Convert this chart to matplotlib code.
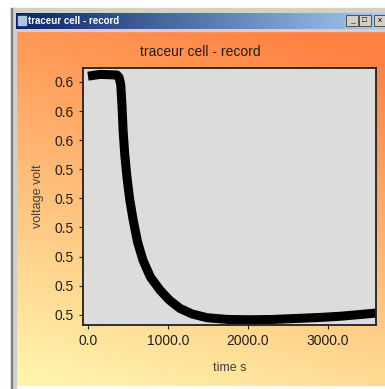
import numpy as np
import matplotlib
matplotlib.use("Agg")
import matplotlib.pyplot as plt
from matplotlib.patches import Rectangle

# record
time_s = [0, 150, 362, 390, 410, 425, 440, 460, 487, 520, 562, 620, 687, 780, 900,
          1020, 1150, 1300, 1487, 1750, 2025, 2300, 2650, 2900, 3150, 3400, 3600]
voltage = [0.5820, 0.5826, 0.5824, 0.5815, 0.5790, 0.5720, 0.5630, 0.5550, 0.5474,
           0.5400, 0.5330, 0.5250, 0.5188, 0.5130, 0.5085, 0.5050, 0.5022, 0.5003,
           0.4990, 0.4984, 0.4983, 0.4984, 0.4988, 0.4991, 0.4995, 0.5001, 0.5006]
yticks = [0.58, 0.57, 0.56, 0.55, 0.54, 0.53, 0.52, 0.51, 0.50]
ytick_labels = ["0.6", "0.6", "0.6", "0.5", "0.5", "0.5", "0.5", "0.5", "0.5"]
xticks = [0, 1000, 2000, 3000]
xtick_labels = ["0.0", "1000.0", "2000.0", "3000.0"]

plt.rcParams['font.family'] = ['Liberation Sans', 'DejaVu Sans']

W, H = 385, 389
fig = plt.figure(figsize=(W / 100, H / 100), dpi=100)
fig.patch.set_facecolor("white")

# window frame drawn in pixel coords
bg = fig.add_axes([0, 0, 1, 1])
bg.set_xlim(0, W)
bg.set_ylim(H, 0)
bg.axis("off")

# orange -> pale yellow panel
x0, y0, x1, y1 = 15, 31, W, 386
yy, xx = np.mgrid[0:1:200j, 0:1:200j]
t = np.clip(0.85 * yy + 0.25 * (1 - xx) - 0.05, 0, 1)
top = np.array([255, 128, 64]) / 255
bot = np.array([255, 242, 170]) / 255
img = top[None, None, :] * (1 - t[..., None]) + bot[None, None, :] * t[..., None]
bg.imshow(img, extent=(x0, x1, y1, y0), aspect="auto", zorder=1)

# left border and top border of the window
bg.add_patch(Rectangle((11, 8), 5, H - 8, color="#d4d0c8", zorder=2))
bg.add_patch(Rectangle((11, 8), 1, H - 8, color="#808080", zorder=3))
bg.add_patch(Rectangle((11, 8), W - 11, 5, color="#d4d0c8", zorder=2))
bg.add_patch(Rectangle((15, 29), W - 15, 2, color="#d4d0c8", zorder=2))

# title bar gradient
tb = np.linspace(0, 1, 200)[None, :]
navy = np.array([10, 36, 106]) / 255
light = np.array([166, 202, 240]) / 255
tb_img = navy[None, None, :] * (1 - tb[..., None]) + light[None, None, :] * tb[..., None]
bg.imshow(tb_img, extent=(16, W, 29, 13), aspect="auto", zorder=2)
bg.add_patch(Rectangle((18, 16), 8, 9, color="#b0c4de", zorder=3))
bg.text(28, 21, "traceur cell - record", color="white", fontsize=7, fontweight="bold",
        va="center", ha="left", zorder=4)
for bx in (346, 359, 374):
    bg.add_patch(Rectangle((bx, 15), 12, 11, facecolor="#d4d0c8", edgecolor="#404040",
                           lw=0.6, zorder=4))
bg.text(352, 20.5, "_", fontsize=6, ha="center", va="center", zorder=5)
bg.text(365, 20.5, "□", fontsize=6, ha="center", va="center", zorder=5)
bg.text(380, 20.5, "x", fontsize=6, ha="center", va="center", zorder=5)

# plot title centred on the panel
bg.text(200, 52, "traceur cell - record", fontsize=10, color="#202020",
        ha="center", va="center", zorder=5)

ax = fig.add_axes([83 / W, 1 - 325 / H, 293 / W, 257 / H])
ax.set_facecolor("#dcdcdc")
ax.plot(time_s, voltage, color="black", lw=6.5, solid_joinstyle="round",
        solid_capstyle="butt")
ax.set_xlim(-62, 3600)
ax.set_ylim(0.4965, 0.5848)
ax.set_xticks(xticks)
ax.set_xticklabels(xtick_labels)
ax.set_yticks(yticks)
ax.set_yticklabels(ytick_labels)
ax.tick_params(labelsize=10, colors="#202020", length=3, width=0.8)
for s in ax.spines.values():
    s.set_linewidth(1.3)
    s.set_color("#202020")
ax.set_xlabel("time s", fontsize=9, color="#404040", labelpad=10)
ax.set_ylabel("voltage volt", fontsize=9, color="#404040", labelpad=8)

fig.savefig("out.png", dpi=100)
